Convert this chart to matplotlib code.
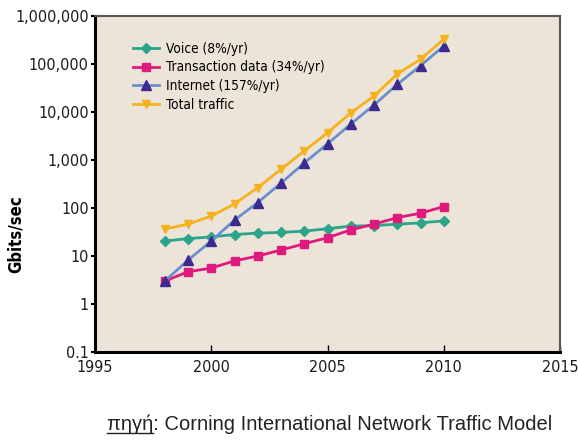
import matplotlib.pyplot as plt
import matplotlib.ticker as mticker
from matplotlib import font_manager

# Traffic forecast (Gbits/sec) per year
years = [1998, 1999, 2000, 2001, 2002, 2003, 2004, 2005, 2006, 2007, 2008, 2009, 2010]
voice = [20.5, 23, 25, 28, 30, 31, 33, 37, 42, 43, 46, 49, 54]
transaction = [3.0, 4.7, 5.6, 7.9, 10, 13.3, 18, 24, 35, 46, 63, 78, 107]
internet = [3.0, 8.2, 20.5, 56, 130, 330, 870, 2170, 5600, 14000, 37500, 92000, 237000]
total = [36.5, 46, 68, 122, 266, 640, 1540, 3700, 9600, 21500, 62000, 125000, 330000]

labels = ['Voice (8%/yr)', 'Transaction data (34%/yr)', 'Internet (157%/yr)', 'Total traffic']
x_ticks = [1995, 2000, 2005, 2010, 2015]
y_ticks = [0.1, 1, 10, 100, 1000, 10000, 100000, 1000000]

# look for narrow faces (regular and bold) among the installed fonts
fonts = font_manager.fontManager.ttflist
cond = [f for f in fonts if 'condensed' in str(f.stretch).lower() or 'Narrow' in f.name
        or 'Condensed' in f.name]


def weight_num(f):
    w = f.weight
    if isinstance(w, str):
        return 700 if 'bold' in w.lower() else 400
    return w


cond_regular = [f for f in cond if weight_num(f) < 600 and f.style == 'normal']
cond_bold = [f for f in cond if weight_num(f) >= 600 and f.style == 'normal']


def nprop(size, bold=False):
    pool = cond_bold if bold else cond_regular
    if not pool:
        pool = cond_regular or cond_bold
    if pool:
        return font_manager.FontProperties(fname=pool[0].fname, size=size)
    return font_manager.FontProperties(family='DejaVu Sans', size=size * 0.88,
                                       weight='bold' if bold else 'normal')


fig = plt.figure(figsize=(5.78, 4.41), dpi=100)
ax = fig.add_axes([95 / 578, 1 - 352 / 441, 465 / 578, 336 / 441])
ax.set_facecolor('#ede4d9')

ax.plot(years, voice, color='#2aa58a', marker='D', markersize=5, lw=2, label=labels[0])
ax.plot(years, transaction, color='#e01a7c', marker='s', markersize=6, lw=2, label=labels[1])
ax.plot(years, internet, color='#6a8fcc', marker='^', markersize=7, lw=2,
        markerfacecolor='#3b2a90', markeredgecolor='#3b2a90', label=labels[2])
ax.plot(years, total, color='#f4b21e', marker='v', markersize=6, lw=2, label=labels[3])

ax.set_yscale('log')
ax.set_ylim(0.1, 1000000)
ax.set_xlim(1995, 2015)
ax.set_xticks(x_ticks)
ax.set_yticks(y_ticks)
ax.yaxis.set_minor_locator(mticker.NullLocator())
ax.yaxis.set_major_formatter(mticker.FuncFormatter(
    lambda v, p: '0.1' if v < 1 else f'{int(round(v)):,}'))

tick_fp = nprop(11.5)
for lab in ax.get_xticklabels() + ax.get_yticklabels():
    lab.set_fontproperties(tick_fp)
    lab.set_color('#1a1a1a')

ax.tick_params(axis='y', direction='out', length=3, width=1.5, pad=1.5)
ax.tick_params(axis='x', direction='in', length=5, width=1, pad=6)

for side in ['left', 'bottom']:
    ax.spines[side].set_linewidth(2.2)
    ax.spines[side].set_color('black')
for side in ['top', 'right']:
    ax.spines[side].set_linewidth(1.5)
    ax.spines[side].set_color('#555555')

ax.set_ylabel('Gbits/sec', fontproperties=nprop(12, bold=True))
ax.yaxis.set_label_coords(-0.15, 0.35)

ax.legend(loc='upper left', bbox_to_anchor=(0.07, 0.94), frameon=False, handlelength=1.9,
          handletextpad=0.5, labelspacing=0.35, borderaxespad=0, prop=nprop(9.8))

# caption with underlined source word
cap_size = 14.5
cap_x = 107 / 578
fig.text(cap_x, 1 - 430 / 441, 'πηγή: Corning International Network Traffic Model',
         fontsize=cap_size, fontfamily='Liberation Sans', va='baseline', color='#222222')
fig.canvas.draw()
r = fig.canvas.get_renderer()
word = fig.text(0, 0, 'πηγή', fontsize=cap_size, fontfamily='Liberation Sans')
w = word.get_window_extent(renderer=r).width
word.remove()
y0 = 1 - 433 / 441
fig.add_artist(plt.Line2D([cap_x, cap_x + w / 578], [y0, y0], color='#222222', lw=1,
                          transform=fig.transFigure))

fig.savefig('out.png', dpi=100)
